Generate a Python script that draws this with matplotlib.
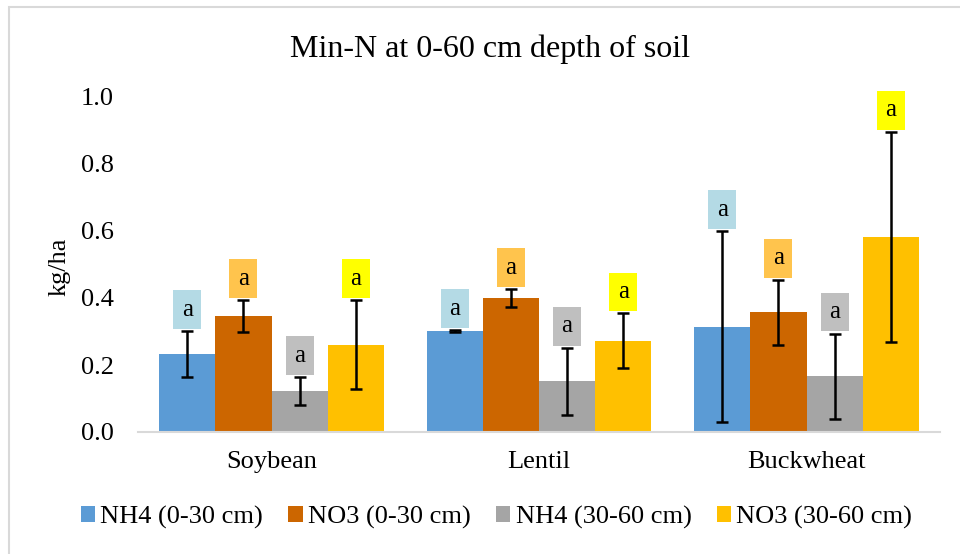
import matplotlib
matplotlib.use("Agg")
import matplotlib.pyplot as plt
from matplotlib.patches import Rectangle, Patch
import numpy as np

plt.rcParams['font.family'] = ['Liberation Serif', 'DejaVu Serif']

crops = ["Soybean", "Lentil", "Buckwheat"]
series = ["NH4 (0-30 cm)", "NO3 (0-30 cm)", "NH4 (30-60 cm)", "NO3 (30-60 cm)"]

nh4_top = [0.233, 0.301, 0.314]
no3_top = [0.346, 0.400, 0.358]
nh4_sub = [0.123, 0.151, 0.167]
no3_sub = [0.261, 0.273, 0.583]

nh4_top_err = [0.068, 0.003, 0.285]
no3_top_err = [0.047, 0.027, 0.097]
nh4_sub_err = [0.041, 0.101, 0.127]
no3_sub_err = [0.133, 0.081, 0.313]

letters = ["a", "a", "a", "a"]

yticks = [0.0, 0.2, 0.4, 0.6, 0.8, 1.0]

bar_colors = ["#5b9bd5", "#cc6600", "#a5a5a5", "#ffc000"]
box_colors = ["#b4dae5", "#ffc44d", "#bfbfbf", "#ffff00"]

values = [nh4_top, no3_top, nh4_sub, no3_sub]
errors = [nh4_top_err, no3_top_err, nh4_sub_err, no3_sub_err]

fig = plt.figure(figsize=(9.6, 5.54), dpi=100)
ax = fig.add_axes([137.75 / 960, 1 - 432 / 554, 802.5 / 960, 335 / 554])

x = np.arange(len(crops))
width = 0.21
box_w = 0.105
box_h = 0.116
gap = 0.006

for i, (vals, errs) in enumerate(zip(values, errors)):
    pos = x + (i - 1.5) * width
    ax.bar(pos, vals, width, color=bar_colors[i], label=series[i], zorder=2)
    ax.errorbar(pos, vals, yerr=errs, fmt='none', ecolor='black',
                elinewidth=1.8, capsize=4.5, capthick=1.8, zorder=3)
    for xp, v, e in zip(pos, vals, errs):
        y0 = v + e + gap
        ax.add_patch(Rectangle((xp - box_w / 2, y0), box_w, box_h,
                               facecolor=box_colors[i], edgecolor='none',
                               zorder=4, clip_on=False))
        ax.text(xp, y0 + box_h / 2, letters[i], ha='center', va='center',
                fontsize=18, zorder=5, clip_on=False)

ax.set_xlim(-0.5, 2.5)
ax.set_ylim(0, 1.0)
ax.set_yticks(yticks)
ax.set_yticklabels([f"{t:.1f}" for t in yticks])
ax.set_xticks(x)
ax.set_xticklabels(crops)
ax.tick_params(axis='y', length=0, pad=17, labelsize=19)
ax.tick_params(axis='x', length=0, pad=14, labelsize=19)

for s in ['top', 'right', 'left']:
    ax.spines[s].set_visible(False)
ax.spines['bottom'].set_color('#d9d9d9')
ax.spines['bottom'].set_linewidth(1.5)

fig.text(490 / 960, 1 - 49 / 554, "Min-N at 0-60 cm depth of soil",
         ha='center', va='center', fontsize=23)
fig.text(60 / 960, 1 - 267 / 554, "kg/ha", rotation=90,
         ha='center', va='center', fontsize=19)

handles = [Patch(facecolor=c, edgecolor='none') for c in bar_colors]
fig.legend(handles, series, loc='center', bbox_to_anchor=(496.5 / 960, 1 - 517 / 554),
           ncol=4, frameon=False, fontsize=19, handlelength=0.55, handleheight=0.55,
           handletextpad=0.2, columnspacing=0.95, borderpad=0, borderaxespad=0)

fig.add_artist(Rectangle((9 / 960, -0.1), 2, 1 - 7 / 554 + 0.1,
                         transform=fig.transFigure, fill=False,
                         edgecolor='#d9d9d9', linewidth=1.5))

fig.savefig("out.png", dpi=100)
